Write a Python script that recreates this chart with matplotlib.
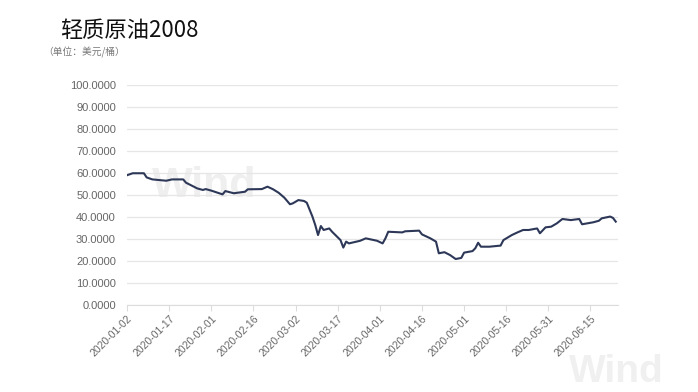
import numpy as np
import pandas as pd
import matplotlib
matplotlib.use("Agg")
import matplotlib.pyplot as plt
import matplotlib.dates as mdates
from matplotlib.ticker import MultipleLocator, FormatStrFormatter

plt.rcParams['font.family'] = ['Liberation Sans', 'Noto Sans CJK SC', 'DejaVu Sans']

# --- data (USD / barrel) ---
dates = [
    "2020-01-02", "2020-01-04", "2020-01-08", "2020-01-09", "2020-01-11",
    "2020-01-16", "2020-01-18", "2020-01-22", "2020-01-23", "2020-01-27",
    "2020-01-29", "2020-01-30", "2020-02-01", "2020-02-05", "2020-02-06",
    "2020-02-09", "2020-02-13", "2020-02-14", "2020-02-19", "2020-02-21",
    "2020-02-23", "2020-02-25", "2020-02-27", "2020-02-29", "2020-03-01",
    "2020-03-03", "2020-03-05", "2020-03-06", "2020-03-08", "2020-03-09",
    "2020-03-10", "2020-03-11", "2020-03-12", "2020-03-14", "2020-03-15",
    "2020-03-18", "2020-03-19", "2020-03-20", "2020-03-21", "2020-03-25",
    "2020-03-27", "2020-03-31", "2020-04-02", "2020-04-03", "2020-04-04",
    "2020-04-09", "2020-04-10", "2020-04-15", "2020-04-16", "2020-04-19",
    "2020-04-21", "2020-04-22", "2020-04-24", "2020-04-26", "2020-04-28",
    "2020-04-30", "2020-05-01", "2020-05-04", "2020-05-05", "2020-05-06",
    "2020-05-07", "2020-05-10", "2020-05-14", "2020-05-15", "2020-05-18",
    "2020-05-20", "2020-05-22", "2020-05-24", "2020-05-27", "2020-05-28",
    "2020-05-30", "2020-06-01", "2020-06-03", "2020-06-05", "2020-06-08",
    "2020-06-11", "2020-06-12", "2020-06-16", "2020-06-18", "2020-06-19",
    "2020-06-22", "2020-06-23", "2020-06-24",
]
prices = [
    59.0, 59.9, 59.9, 58.0, 57.1,
    56.5, 57.1, 57.1, 55.6, 53.0,
    52.3, 52.7, 52.0, 50.3, 51.8,
    50.8, 51.5, 52.6, 52.7, 53.8,
    52.6, 51.0, 48.8, 45.8, 46.2,
    47.7, 47.3, 46.5, 40.2, 36.4,
    31.8, 35.9, 34.1, 34.8, 33.3,
    29.5, 26.1, 28.8, 28.0, 29.2,
    30.3, 29.2, 28.0, 30.3, 33.3,
    33.0, 33.5, 33.8, 32.1, 30.3,
    28.8, 23.5, 24.0, 22.7, 20.9,
    21.4, 23.8, 24.5, 25.8, 28.3,
    26.5, 26.5, 27.0, 29.5, 31.8,
    33.0, 34.1, 34.1, 34.8, 32.6,
    35.3, 35.6, 37.1, 39.1, 38.6,
    39.1, 36.7, 37.6, 38.3, 39.4,
    40.2, 39.6, 37.9,
]
tick_dates = [
    "2020-01-02", "2020-01-17", "2020-02-01", "2020-02-16", "2020-03-02",
    "2020-03-17", "2020-04-01", "2020-04-16", "2020-05-01", "2020-05-16",
    "2020-05-31", "2020-06-15",
]

title = "轻质原油2008"
unit = "（单位：美元/桶）"

x = pd.to_datetime(dates)
ticks = pd.to_datetime(tick_dates)

fig = plt.figure(figsize=(6.98, 3.92), dpi=100)
ax = fig.add_axes([0.182, 0.222, 0.703, 0.561])

# faint watermarks
ax.text(0.05, 0.49, "Wind", transform=ax.transAxes, fontsize=31, fontweight='bold',
        color='#efefef', zorder=0)
fig.text(0.815, 0.025, "Wind", fontsize=28, fontweight='bold', color='#f0f0f0')

ax.plot(x, prices, color='#2d3858', linewidth=1.5, zorder=3)

ax.set_ylim(0, 100)
ax.yaxis.set_major_locator(MultipleLocator(10))
ax.yaxis.set_major_formatter(FormatStrFormatter('%.4f'))
ax.set_xlim(mdates.date2num(pd.Timestamp("2020-01-02")),
            mdates.date2num(pd.Timestamp("2020-06-24")) + 0.7)
ax.set_xticks(ticks)
ax.set_xticklabels(tick_dates, rotation=45, ha='right', rotation_mode='anchor')

ax.grid(axis='y', color='#e6e6e6', linewidth=0.9)
ax.set_axisbelow(True)
for side in ['top', 'right', 'left']:
    ax.spines[side].set_visible(False)
ax.spines['bottom'].set_color('#dcdcdc')
ax.tick_params(axis='y', length=0, pad=8, labelsize=8, labelcolor='#666666')
ax.tick_params(axis='x', length=4, color='#dcdcdc', pad=2, labelsize=7.5,
               labelcolor='#666666')

fig.text(0.086, 0.905, title, fontsize=16, color='#111111',
         family=['Noto Sans CJK SC', 'DejaVu Sans'])
fig.text(0.062, 0.858, unit, fontsize=7, color='#777777',
         family=['Noto Sans CJK SC', 'DejaVu Sans'])

fig.savefig("out.png", dpi=100)
